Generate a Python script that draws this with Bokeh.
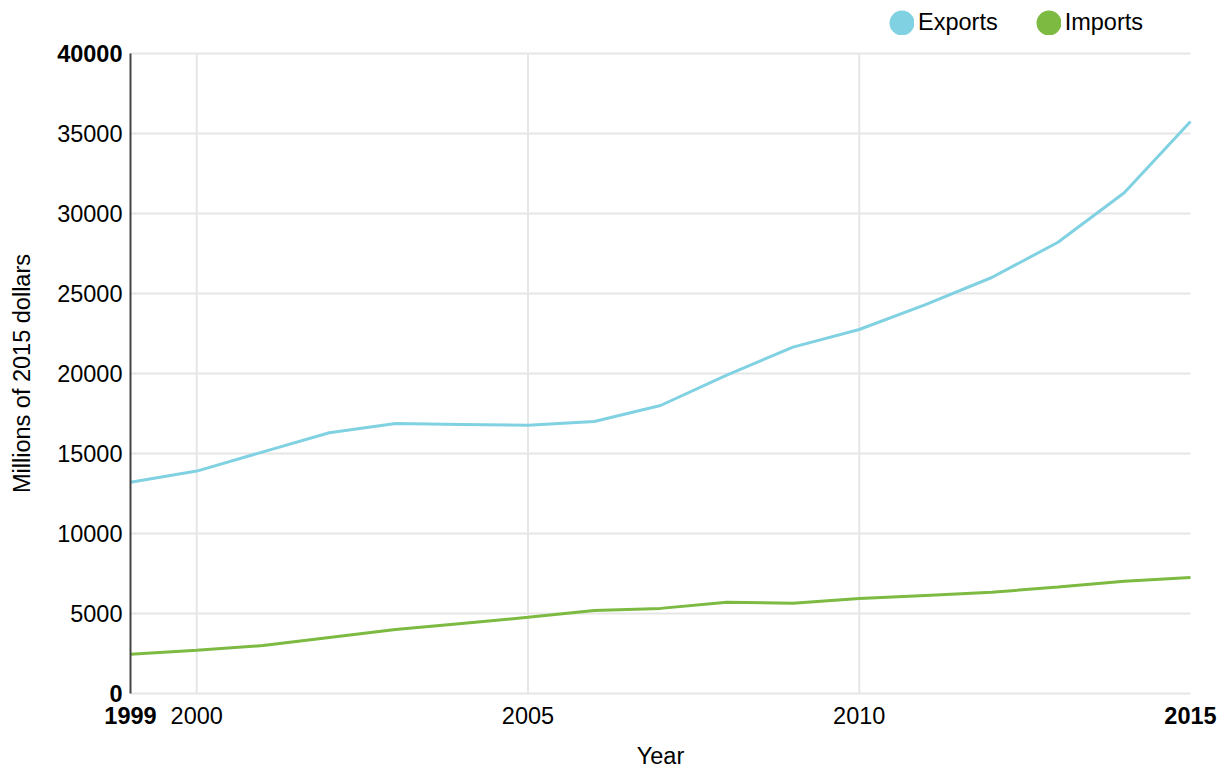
import math
from bokeh.plotting import figure
from bokeh.models import (Range1d, FixedTicker, Legend, LegendItem, Label,
                          ColumnDataSource, LinearAxis)
from bokeh.embed import file_html
from bokeh.resources import INLINE

# ---- data ----
years = list(range(1999, 2016))
exports = [13200, 13900, 15100, 16300, 16880, 16820, 16760, 17000, 18000,
           19900, 21650, 22750, 24300, 26000, 28200, 31300, 35750]
imports = [2450, 2700, 3000, 3500, 4000, 4380, 4760, 5190, 5320,
           5700, 5640, 5930, 6130, 6330, 6650, 7020, 7250]
series_names = ["Exports", "Imports"]
series_colors = ["#80d1e1", "#7cba42"]

x_ticks = [1999, 2000, 2005, 2010, 2015]
x_tick_labels = ["1999", "2000", "2005", "2010", "2015"]
y_ticks = [0, 5000, 10000, 15000, 20000, 25000, 30000, 35000, 40000]
y_tick_labels = ["0", "5000", "10000", "15000", "20000", "25000", "30000",
                 "35000", "40000"]
x_title = "Year"
y_title = "Millions of 2015 dollars"

# ---- layout (pixels) ----
W, H = 1225, 769
PLOT_L, PLOT_R, PLOT_T, PLOT_B = 130, 1190, 53, 693
FONT = "Liberation Sans"
FS = "23.5px"

# whole canvas is the frame; data area mapped to PLOT_* box
x0, x1 = x_ticks[0], x_ticks[-1]
y0, y1 = y_ticks[0], y_ticks[-1]
xs = (x1 - x0) / (PLOT_R - PLOT_L)
ys = (y1 - y0) / (PLOT_B - PLOT_T)
p = figure(width=W, height=H, output_backend="svg", toolbar_location=None,
           x_range=Range1d(x0 - PLOT_L * xs, x1 + (W - PLOT_R) * xs),
           y_range=Range1d(y0 - (H - PLOT_B) * ys, y1 + PLOT_T * ys),
           x_axis_location=None, y_axis_location=None,
           min_border=0)
p.outline_line_color = None
p.background_fill_color = "white"
p.border_fill_color = "white"
p.grid.visible = False

inner_x = x_ticks[1:-1]
inner_y = y_ticks[1:-1]
end_x = [x_ticks[0], x_ticks[-1]]
end_y = [y_ticks[0], y_ticks[-1]]

# grid lines
GRID = "#e6e6e6"
p.segment(x0=inner_x, y0=[y0] * len(inner_x), x1=inner_x, y1=[y1] * len(inner_x),
          line_color=GRID, line_width=2)
p.segment(x0=[x0] * len(y_ticks), y0=y_ticks, x1=[x1] * len(y_ticks), y1=y_ticks,
          line_color=GRID, line_width=2)

src = ColumnDataSource(dict(year=years, exports=exports, imports=imports))
p.line("year", "exports", source=src, line_color=series_colors[0], line_width=3)
p.line("year", "imports", source=src, line_color=series_colors[1], line_width=3)

# legend-only dot renderers (hidden in the plot, drawn in the legend)
dot_e = p.scatter("year", "exports", source=src, marker="circle",
                  fill_color=series_colors[0], line_color=series_colors[0],
                  line_width=15, visible=False)
dot_i = p.scatter("year", "imports", source=src, marker="circle",
                  fill_color=series_colors[1], line_color=series_colors[1],
                  line_width=15, visible=False)

x_over = {t: l for t, l in zip(x_ticks, x_tick_labels)}
y_over = {t: l for t, l in zip(y_ticks, y_tick_labels)}


def make_axis(ticks, loc, over, standoff, bold=False, line=None, bounds=None):
    ax = LinearAxis(ticker=FixedTicker(ticks=ticks), fixed_location=loc)
    ax.major_label_overrides = over
    ax.axis_line_color = line
    ax.axis_line_width = 2
    if bounds is not None:
        ax.bounds = bounds
    ax.major_tick_line_color = None
    ax.minor_tick_line_color = None
    ax.major_tick_out = 0
    ax.major_tick_in = 0
    ax.major_label_standoff = standoff
    ax.major_label_text_font = FONT
    ax.major_label_text_font_size = FS
    ax.major_label_text_color = "#000000"
    ax.major_label_text_font_style = "bold" if bold else "normal"
    return ax


X_STAND = 13
Y_STAND = 8
p.add_layout(make_axis(inner_y, x0, y_over, Y_STAND, line="#444444",
                       bounds=(y0, y1)), "left")
p.add_layout(make_axis(end_y, x0, y_over, Y_STAND, bold=True), "left")
p.add_layout(make_axis(inner_x, y0, x_over, X_STAND), "below")
p.add_layout(make_axis(end_x, y0, x_over, X_STAND, bold=True), "below")

# axis titles
p.add_layout(Label(x=(x0 + x1) / 2, x_units="data", y=H - 755.5, y_units="screen",
                   text=x_title, text_align="center", text_baseline="middle",
                   text_font=FONT, text_font_size=FS, text_color="#000000"))
p.add_layout(Label(x=21.5, x_units="screen", y=(y0 + y1) / 2, y_units="data",
                   text=y_title, angle=math.pi / 2, text_align="center",
                   text_baseline="middle",
                   text_font=FONT, text_font_size=FS, text_color="#000000"))

legend = Legend(items=[LegendItem(label=series_names[0], renderers=[dot_e]),
                       LegendItem(label=series_names[1], renderers=[dot_i])],
                orientation="horizontal", location=(889, H - 35.5),
                glyph_width=25, glyph_height=25, label_height=25,
                label_standoff=4, spacing=38, padding=0, margin=0,
                label_text_font=FONT, label_text_font_size=FS,
                label_text_color="#000000",
                background_fill_alpha=0, border_line_alpha=0)
p.add_layout(legend, "center")

open("out.html", "w").write(file_html(p, INLINE))
